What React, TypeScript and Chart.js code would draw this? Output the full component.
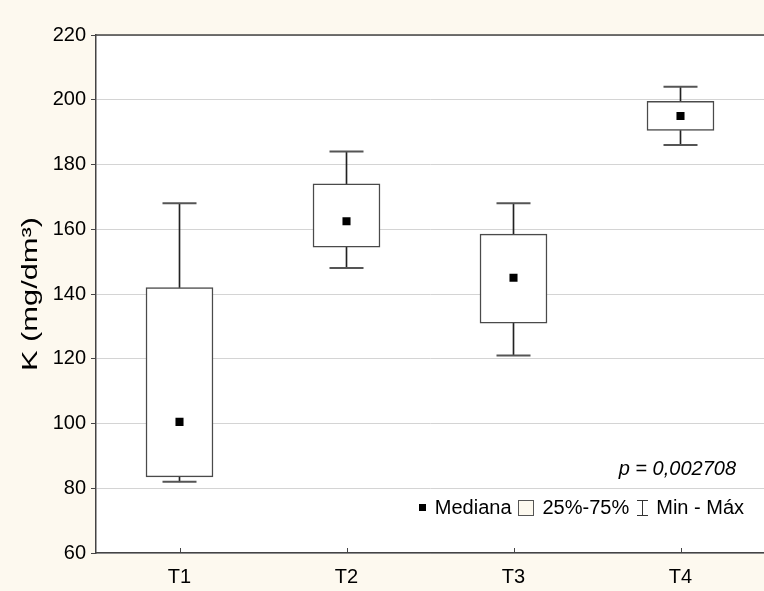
import React, { useEffect, useRef } from 'react';
import { Chart, registerables } from 'chart.js';

Chart.register(...registerables);

const categories = ['T1', 'T2', 'T3', 'T4'];
const minValues = [82, 148, 121, 186];
const q1Values = [83.5, 154.5, 131, 190.5];
const medianValues = [100.5, 162.5, 145, 195];
const q3Values = [142, 174, 158.5, 199.5];
const maxValues = [168, 184, 168, 204];
const yMin = 60;
const yMax = 220;
const yStep = 20;
const yTitle = 'K (mg/dm³)';
const pValueText = 'p = 0,002708';
const legendLabels = ['Mediana', '25%-75%', 'Min - Máx'];

const CREAM = '#fdf9ef';
const AXIS = '#444444';
const FONT = "'Liberation Sans', Arial, sans-serif";

const decorPlugin = {
  id: 'decor',
  beforeDraw(chart: any) {
    const { ctx, chartArea } = chart;
    ctx.save();
    ctx.fillStyle = CREAM;
    ctx.fillRect(0, 0, chart.width, chart.height);
    ctx.fillStyle = '#ffffff';
    ctx.fillRect(chartArea.left, chartArea.top, chartArea.right - chartArea.left, chartArea.bottom - chartArea.top);
    ctx.restore();
  },
  afterDraw(chart: any) {
    const { ctx, chartArea } = chart;
    const xs = chart.scales.x;
    ctx.save();
    // top frame line
    ctx.strokeStyle = AXIS;
    ctx.lineWidth = 1.5;
    ctx.beginPath();
    ctx.moveTo(chartArea.left, chartArea.top);
    ctx.lineTo(chartArea.right, chartArea.top);
    ctx.stroke();
    // inward x ticks
    ctx.lineWidth = 1;
    categories.forEach((_, i) => {
      const x = Math.round(xs.getPixelForValue(i)) + 0.5;
      ctx.beginPath();
      ctx.moveTo(x, chartArea.bottom);
      ctx.lineTo(x, chartArea.bottom - 5);
      ctx.stroke();
    });
    // y axis title (stretched along its length like the reference)
    ctx.fillStyle = '#000';
    ctx.save();
    ctx.translate(31, (chartArea.top + chartArea.bottom) / 2);
    ctx.rotate(-Math.PI / 2);
    ctx.scale(1.4, 1);
    ctx.font = `22px ${FONT}`;
    ctx.textAlign = 'center';
    ctx.textBaseline = 'middle';
    ctx.fillText(yTitle, 0, 0);
    ctx.restore();
    // p-value
    ctx.font = `italic 20px ${FONT}`;
    ctx.textAlign = 'right';
    ctx.textBaseline = 'middle';
    ctx.fillText(pValueText, 736, 469);
    // legend
    ctx.font = `20px ${FONT}`;
    ctx.textAlign = 'left';
    const y = 508;
    const w0 = ctx.measureText(legendLabels[0]).width;
    const w1 = ctx.measureText(legendLabels[1]).width;
    const w2 = ctx.measureText(legendLabels[2]).width;
    const sq = 7, box = 15, wh = 11, gIcon = 9, gItem = 7;
    const total = sq + gIcon + w0 + gItem + box + gIcon + w1 + gItem + wh + gIcon + w2;
    let x = 744 - total;
    ctx.fillStyle = '#000';
    ctx.fillRect(Math.round(x), y - 4, sq, sq);
    x += sq + gIcon;
    ctx.fillText(legendLabels[0], x, y);
    x += w0 + gItem;
    ctx.fillStyle = CREAM;
    ctx.fillRect(Math.round(x) + 0.5, y - 7.5, box, box);
    ctx.strokeStyle = '#555';
    ctx.lineWidth = 1;
    ctx.strokeRect(Math.round(x) + 0.5, y - 7.5, box, box);
    x += box + gIcon;
    ctx.fillStyle = '#000';
    ctx.fillText(legendLabels[1], x, y);
    x += w1 + gItem;
    const cx = Math.round(x + wh / 2) + 0.5;
    ctx.strokeStyle = '#333';
    ctx.beginPath();
    ctx.moveTo(cx - wh / 2, y - 7.5);
    ctx.lineTo(cx + wh / 2, y - 7.5);
    ctx.moveTo(cx, y - 7.5);
    ctx.lineTo(cx, y + 7.5);
    ctx.moveTo(cx - wh / 2, y + 7.5);
    ctx.lineTo(cx + wh / 2, y + 7.5);
    ctx.stroke();
    x += wh + gIcon;
    ctx.fillText(legendLabels[2], x, y);
    ctx.restore();
  },
};

export default function App() {
  const ref = useRef<HTMLCanvasElement>(null);
  useEffect(() => {
    const canvas = ref.current;
    if (!canvas) return;
    Chart.defaults.font.family = FONT;
    const yTicks: number[] = [];
    for (let v = yMin; v <= yMax; v += yStep) yTicks.push(v);
    const chart = new Chart(canvas, {
      type: 'bar',
      data: {
        labels: categories,
        datasets: [
          {
            type: 'line',
            label: 'Mediana',
            data: medianValues,
            showLine: false,
            pointStyle: 'rect',
            pointRadius: 5.7,
            pointBackgroundColor: '#000',
            pointBorderWidth: 0,
            order: 0,
          } as any,
          {
            type: 'line',
            label: 'Max',
            data: maxValues,
            showLine: false,
            pointStyle: 'line',
            pointRadius: 17,
            pointBorderColor: '#555',
            pointBorderWidth: 2,
            order: 1,
          } as any,
          {
            type: 'line',
            label: 'Min',
            data: minValues,
            showLine: false,
            pointStyle: 'line',
            pointRadius: 17,
            pointBorderColor: '#555',
            pointBorderWidth: 2,
            order: 1,
          } as any,
          {
            type: 'bar',
            label: '25%-75%',
            data: categories.map((_, i) => [q1Values[i], q3Values[i]]),
            backgroundColor: '#ffffff',
            borderColor: '#4a4a4a',
            borderWidth: 1.5,
            borderSkipped: false,
            barThickness: 67,
            grouped: false,
            order: 2,
          } as any,
          {
            type: 'bar',
            label: 'upper',
            data: categories.map((_, i) => [q3Values[i], maxValues[i]]),
            backgroundColor: '#222',
            borderWidth: 0,
            barThickness: 1,
            grouped: false,
            order: 3,
          } as any,
          {
            type: 'bar',
            label: 'lower',
            data: categories.map((_, i) => [minValues[i], q1Values[i]]),
            backgroundColor: '#222',
            borderWidth: 0,
            barThickness: 1,
            grouped: false,
            order: 3,
          } as any,
        ],
      },
      options: {
        responsive: false,
        animation: false,
        devicePixelRatio: 1,
        events: [],
        layout: { autoPadding: false, padding: { top: 35, right: 0, left: 0, bottom: 0 } },
        plugins: {
          legend: { display: false },
          tooltip: { enabled: false },
        },
        scales: {
          x: {
            type: 'category',
            offset: true,
            grid: { display: false, drawTicks: false },
            border: { display: true, color: AXIS, width: 1.5 },
            ticks: { color: '#000', font: { size: 20 }, padding: 12 },
            afterFit: (s: any) => { s.height = 38; },
          },
          y: {
            type: 'linear',
            min: yMin,
            max: yMax,
            afterBuildTicks: (s: any) => { s.ticks = yTicks.map((v) => ({ value: v })); },
            grid: { color: '#d4d4d4', tickColor: AXIS, tickLength: 5, lineWidth: 1 },
            border: { display: true, color: AXIS, width: 1.5 },
            ticks: { color: '#000', font: { size: 20 }, padding: 5 },
            title: { display: false },
            afterFit: (s: any) => { s.width = 96; },
          },
        },
      },
      plugins: [decorPlugin],
    });
    return () => chart.destroy();
  }, []);
  return (
    <div style={{ position: 'fixed', left: 0, top: 0, width: 764, height: 591, background: CREAM }}>
      <canvas ref={ref} width={764} height={591} style={{ display: 'block', width: 764, height: 591 }} />
    </div>
  );
}
